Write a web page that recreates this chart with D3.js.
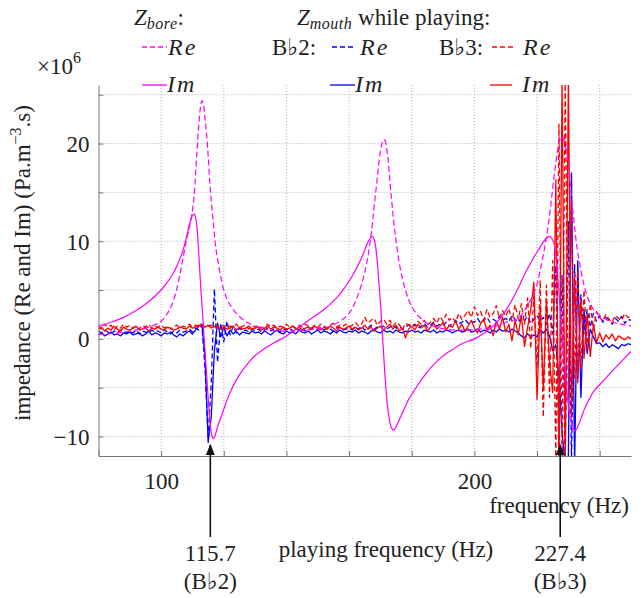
<!DOCTYPE html>
<html>
<head>
<meta charset="utf-8">
<script src="https://cdn.jsdelivr.net/npm/d3@7"></script>
<style>
  body { margin: 0; background: #fff; }
  svg text { font-family: "Liberation Serif", "DejaVu Serif", serif; fill: #222; }
</style>
</head>
<body>
<div id="chart"></div>
<script>
// Z_bore (input impedance of the bore), x10^6
const boreFreq = [80, 84, 88, 92, 96, 100, 102, 104, 106, 107, 108, 109, 110, 110.5, 111, 111.5, 112, 112.5, 113, 113.5,
  114, 114.5, 115, 115.5, 116, 116.5, 117, 117.5, 118, 119, 120, 121, 122, 124, 126, 128, 130, 133, 136, 140,
  144, 148, 152, 156, 158, 160, 162, 164, 165, 166, 167, 167.5, 168, 168.5, 169, 169.5, 170, 170.5, 171, 171.5,
  172, 172.5, 173, 173.5, 174, 174.5, 175, 176, 177, 178, 179, 180, 182, 184, 186, 189, 192, 196, 200, 204,
  208, 211, 214, 216, 218, 220, 221, 222, 223, 224, 224.5, 225, 225.5, 226, 226.5, 227, 227.5, 228, 228.5, 229,
  229.5, 230, 230.5, 231, 231.5, 232, 232.5, 233, 234, 235, 236, 237, 238, 240, 242, 244, 247, 250];
const boreRe = [0.45, 0.55, 0.7, 0.9, 1.2, 1.8, 2.6, 4.0, 6.6, 8.3, 10.0, 11.4, 13.2, 14.5, 17.0, 19.5, 21.8, 23.6, 24.4, 24.0,
  22.6, 21.0, 18.8, 16.2, 14.2, 12.4, 10.7, 9.2, 8.2, 6.4, 5.0, 4.1, 3.5, 2.6, 2.0, 1.6, 1.3, 1.0, 0.85, 0.8,
  0.85, 0.95, 1.1, 1.6, 2.0, 2.6, 3.8, 5.6, 6.8, 8.4, 10.6, 12.0, 13.6, 15.0, 16.5, 18.0, 19.2, 20.0, 20.4, 20.3,
  19.5, 18.2, 16.3, 14.5, 12.8, 11.3, 10.0, 7.8, 6.2, 5.0, 4.0, 3.3, 2.4, 1.8, 1.4, 1.1, 0.95, 0.9, 0.95, 1.1,
  1.4, 1.8, 2.1, 2.9, 4.0, 5.6, 7.0, 8.6, 10.4, 12.6, 14.0, 15.4, 16.8, 18.0, 19.2, 20.0, 20.6, 20.7, 20.4, 19.8,
  19.0, 18.0, 16.4, 14.6, 12.9, 11.4, 10.0, 8.8, 7.0, 5.5, 4.4, 3.6, 3.0, 2.4, 2.0, 1.7, 1.5, 1.3];
const boreIm = [1.3, 1.7, 2.2, 2.9, 3.8, 5.0, 5.8, 6.8, 8.2, 9.1, 10.3, 11.7, 12.6, 12.8, 12.4, 11.2, 8.8, 6.0, 3.6, 1.2,
  -1.2, -3.6, -6.0, -8.2, -9.6, -10.2, -10.1, -9.6, -9.0, -8.1, -7.2, -6.3, -5.5, -4.2, -3.2, -2.4, -1.7, -1.0, -0.4, 0.3,
  1.2, 2.1, 3.0, 4.2, 5.0, 5.9, 7.0, 8.3, 9.1, 9.9, 10.4, 10.5, 10.2, 9.4, 7.9, 5.8, 3.8, 1.2, -1.4, -4.0,
  -6.0, -7.5, -8.5, -9.1, -9.3, -9.3, -9.0, -8.3, -7.6, -6.9, -6.2, -5.7, -4.7, -3.8, -3.0, -2.0, -1.3, -0.5, 0.0, 0.8,
  2.0, 3.4, 5.2, 6.6, 7.8, 8.9, 9.4, 9.9, 10.3, 10.5, 10.4, 10.1, 9.7, 8.6, 6.8, 4.8, 2.6, 0.5, -1.8, -3.6,
  -5.4, -6.8, -7.9, -8.6, -9.1, -9.4, -9.3, -9.0, -8.2, -7.3, -6.6, -6.0, -5.4, -4.7, -4.0, -3.3, -2.3, -1.3];

// Z_mouth while playing, one value per Hz from 80 Hz to 250 Hz, x10^6
const mouthStart = 80;
const bb2Re = [
  0.8, 0.6, 0.9, 0.7, 0.5, 0.8, 0.6, 0.9, 0.7, 0.6,
  0.8, 0.6, 0.9, 0.5, 0.8, 0.7, 0.6, 0.9, 0.7, 0.8,
  0.6, 0.9, 0.7, 0.5, 0.8, 0.6, 0.9, 0.7, 0.8, 1.0,
  0.7, 1.1, 0.9, 1.4, -3.0, -10.0, -4.5, 5.1, -2.4, 1.6,
  -0.3, 1.8, 0.4, 1.3, 0.6, 1.1, 0.8, 0.9, 0.7, 1.0,
  0.8, 1.0, 0.7, 0.9, 1.1, 0.8, 1.0, 0.9, 0.7, 1.0,
  0.9, 1.1, 0.8, 1.0, 0.9, 1.2, 0.8, 1.0, 1.1, 0.9,
  1.0, 1.2, 0.9, 1.1, 1.0, 0.8, 1.1, 1.2, 0.9, 1.0,
  1.1, 0.9, 1.2, 1.0, 1.3, 0.9, 1.1, 1.4, 1.0, 1.2,
  1.1, 1.3, 1.0, 1.2, 1.4, 1.1, 1.3, 1.0, 1.2, 1.4,
  1.2, 1.5, 1.1, 1.3, 1.6, 1.2, 1.4, 1.7, 1.3, 1.5,
  1.4, 1.7, 1.3, 1.6, 1.9, 1.5, 1.7, 2.0, 1.6, 1.8,
  1.7, 2.1, 1.6, 1.9, 2.2, 1.7, 2.0, 1.8, 2.3, 1.9,
  2.1, 1.8, 2.4, 2.0, 1.7, 2.2, 1.9, 2.3, 1.6, 2.0,
  2.4, 1.8, 2.2, 1.5, 2.6, 0.5, 7.5, -12.5, 6.5, -12.5,
  12.0, -12.5, 7.6, -4.0, 4.5, 0.5, 3.0, 1.2, 2.6, 1.8,
  2.4, 1.7, 2.2, 1.9, 1.5, 2.1, 1.8, 2.3, 1.6, 2.0,
  1.9];
const bb2Im = [
  0.4, 0.6, 0.3, 0.5, 0.7, 0.4, 0.5, 0.3, 0.6, 0.5,
  0.7, 0.4, 0.5, 0.6, 0.3, 0.5, 0.8, 0.4, 0.6, 0.5,
  0.3, 0.6, 0.5, 0.7, 0.4, 0.2, 0.5, 0.3, 0.6, 0.8,
  0.5, 0.9, 1.3, 1.5, -1.8, -10.6, -8.0, -1.2, 1.6, 0.2,
  1.2, 0.3, 0.9, 0.5, 0.8, 0.4, 0.7, 0.6, 0.5, 0.8,
  0.6, 0.7, 0.5, 0.8, 0.6, 0.4, 0.7, 0.9, 0.6, 0.5,
  0.8, 0.6, 0.7, 0.5, 0.9, 0.7, 0.6, 0.8, 0.5, 0.7,
  0.9, 0.6, 0.8, 0.7, 0.5, 0.8, 0.6, 0.9, 0.7, 0.6,
  0.8, 0.7, 0.9, 0.6, 0.8, 0.7, 0.5, 0.8, 0.9, 0.7,
  0.6, 0.9, 0.7, 0.8, 0.6, 0.9, 0.7, 0.6, 0.8, 0.7,
  0.9, 0.7, 0.8, 0.6, 0.9, 0.8, 0.7, 0.9, 0.6, 0.8,
  0.7, 0.9, 0.8, 0.6, 0.8, 0.9, 0.7, 0.8, 1.0, 0.7,
  0.8, 1.0, 0.7, 0.9, 0.8, 0.6, 0.9, 0.7, 1.0, 0.8,
  0.9, 0.7, 1.0, 0.8, 0.6, 0.3, 0.1, 0.5, 0.2, 0.4,
  0.2, 0.9, 0.6, 1.0, 0.3, -1.2, -0.6, -4.0, -9.5, -13.0,
  -12.0, 17.0, -13.0, 8.0, -6.0, 3.0, -1.5, 1.0, 0.2, -0.5,
  -0.4, -0.8, -0.5, -0.9, -0.6, -0.8, -1.0, -0.6, -0.7, -0.5,
  -0.6];
const bb3Re = [
  1.3, 1.0, 1.5, 1.2, 1.4, 0.9, 1.3, 1.1, 1.5, 1.2,
  1.4, 1.1, 1.3, 1.0, 1.4, 1.2, 1.5, 1.1, 1.3, 1.2,
  1.4, 1.1, 1.3, 1.0, 1.2, 1.4, 1.1, 1.3, 1.2, 1.5,
  1.2, 1.4, 1.3, 1.5, 1.2, 1.3, 1.4, 1.1, 1.3, 1.2,
  1.4, 1.1, 1.3, 1.2, 1.5, 1.1, 1.3, 1.4, 1.0, 1.3,
  1.2, 1.4, 1.1, 1.3, 1.5, 1.2, 1.4, 1.1, 1.3, 1.2,
  1.5, 1.2, 1.3, 1.1, 1.4, 1.2, 1.5, 1.3, 1.1, 1.4,
  1.2, 1.5, 1.3, 1.1, 1.4, 1.6, 1.2, 1.4, 1.3, 1.5,
  1.2, 1.4, 1.7, 1.3, 1.5, 2.2, 1.6, 1.9, 2.1, 1.4,
  1.8, 2.0, 1.5, 1.9, 1.3, 1.7, 1.5, 0.9, 1.6, 1.4,
  1.6, 1.3, 1.8, 1.5, 1.9, 1.4, 1.7, 2.1, 1.6, 2.3,
  1.8, 2.5, 1.9, 2.2, 1.7, 2.6, 2.0, 2.4, 2.9, 2.2,
  3.3, 2.4, 2.8, 1.9, 3.0, 2.2, 2.6, 3.4, 2.1, 2.9,
  2.3, 3.1, 1.8, 3.5, 2.0, 3.6, 1.5, 4.2, -1.0, 4.5,
  -3.0, 6.0, -8.0, 5.5, -6.0, 8.0, -12.5, 22.0, -13.0, 26.5,
  -6.0, 14.0, -4.0, 7.0, -3.0, 5.0, -1.0, 3.6, 1.0, 2.8,
  2.2, 1.8, 2.5, 2.0, 1.7, 2.4, 2.1, 1.9, 2.6, 2.2,
  2.3];
const bb3Im = [
  1.0, 1.2, 0.8, 1.1, 0.9, 1.3, 1.0, 0.8, 1.2, 1.0,
  0.9, 1.1, 1.3, 0.9, 1.0, 1.2, 0.8, 1.1, 1.0, 1.2,
  1.0, 0.9, 1.2, 1.1, 0.9, 1.0, 1.2, 1.1, 1.0, 1.3,
  1.1, 1.2, 1.4, 1.3, 1.2, 1.4, 1.1, 1.3, 1.2, 1.0,
  1.2, 1.0, 1.1, 1.3, 0.9, 1.2, 1.0, 1.1, 1.3, 1.0,
  1.1, 1.2, 0.9, 1.1, 1.3, 1.0, 1.2, 1.1, 0.9, 1.2,
  1.0, 1.1, 1.3, 1.0, 1.2, 0.9, 1.1, 1.2, 1.0, 1.3,
  1.1, 0.9, 1.2, 1.0, 1.3, 1.1, 0.8, 1.2, 1.0, 1.1,
  1.3, 1.0, 1.2, 0.9, 1.1, 1.4, 1.0, 1.2, 0.8, 1.1,
  1.3, 0.9, 1.2, 1.5, 1.0, 1.4, 0.8, 1.1, 0.1, 1.0,
  1.3, 0.9, 1.5, 1.1, 1.4, 0.8, 1.2, 1.6, 1.0, 1.3,
  1.7, 0.9, 1.4, 1.2, 1.8, 1.0, 1.5, 0.8, 1.3, 1.9,
  1.1, 0.6, 1.6, 2.0, 0.9, 1.4, 0.3, 1.8, 1.0, 2.2,
  0.7, 1.5, -0.2, 1.9, 0.4, 2.4, -0.8, 1.2, 3.0, 5.8,
  -6.2, 3.5, -5.2, 4.0, -2.5, -5.5, 16.3, -13.0, 26.5, -13.0,
  26.5, -8.0, 6.5, -4.5, 4.0, -2.0, 2.5, -1.8, 1.5, -0.4,
  0.6, -0.3, 0.4, 0.0, 0.5, -0.2, 0.3, 0.1, -0.1, 0.2,
  0.0];

const xGridTicks = [80, 100, 120, 140, 160, 180, 200, 220, 240];
const xTickLabels = [100, 200];
const yGridTicks = [-10, -5, 0, 5, 10, 15, 20, 25];
const yTickLabels = [-10, 0, 10, 20];
const playingNotes = [{ f: 115.7, label: "115.7", note: "2" }, { f: 227.4, label: "227.4", note: "3" }];

const W = 643, H = 598;
const plot = { left: 98.5, right: 631, top: 85, bottom: 456 };
const fs = '23px';

const svg = d3.select('#chart').append('svg')
  .attr('width', W).attr('height', H);

const x = d3.scaleLinear().domain([80, 250]).range([plot.left, plot.right]);
const y = d3.scaleLinear().domain([-12, 26]).range([plot.bottom, plot.top]);

// grid
svg.append('g').selectAll('line').data(xGridTicks.slice(1)).enter().append('line')
  .attr('x1', d => x(d)).attr('x2', d => x(d))
  .attr('y1', plot.top).attr('y2', plot.bottom)
  .attr('stroke', '#b0b0b0').attr('stroke-dasharray', '1,2');
svg.append('g').selectAll('line').data(yGridTicks).enter().append('line')
  .attr('x1', plot.left).attr('x2', plot.right)
  .attr('y1', d => y(d)).attr('y2', d => y(d))
  .attr('stroke', '#b0b0b0').attr('stroke-dasharray', '1,2');

// clip for the traces
svg.append('clipPath').attr('id', 'clip').append('rect')
  .attr('x', plot.left).attr('y', plot.top)
  .attr('width', plot.right - plot.left).attr('height', plot.bottom - plot.top);

const traces = svg.append('g').attr('clip-path', 'url(#clip)');
const line = d3.line().x(d => x(d[0])).y(d => y(d[1]));
const smooth = d3.line().x(d => x(d[0])).y(d => y(d[1])).curve(d3.curveCatmullRom);
const mouthPts = vals => vals.map((v, i) => [mouthStart + i, v]);
const borePts = vals => vals.map((v, i) => [boreFreq[i], v]);

const series = [
  { pts: mouthPts(bb2Im), color: '#0000ff', dash: null, w: 1.3, gen: line },
  { pts: mouthPts(bb2Re), color: '#0000ff', dash: '5,3', w: 1.3, gen: line },
  { pts: mouthPts(bb3Im), color: '#ff0000', dash: null, w: 1.3, gen: line },
  { pts: mouthPts(bb3Re), color: '#ff0000', dash: '5,3', w: 1.3, gen: line },
  { pts: borePts(boreRe), color: '#ff00ff', dash: '6,3', w: 1.2, gen: smooth },
  { pts: borePts(boreIm), color: '#ff00ff', dash: null, w: 1.2, gen: smooth }
];
traces.selectAll('path').data(series).enter().append('path')
  .attr('d', d => d.gen(d.pts))
  .attr('fill', 'none')
  .attr('stroke', d => d.color)
  .attr('stroke-width', d => d.w)
  .attr('stroke-dasharray', d => d.dash)
  .attr('stroke-linejoin', 'round');

// axes (inward ticks, only some labelled)
const axisColor = '#777';
const xAxis = svg.append('g').attr('transform', `translate(0,${plot.bottom})`)
  .call(d3.axisBottom(x).tickValues(xGridTicks).tickSizeInner(-5).tickSizeOuter(0)
    .tickFormat(d => xTickLabels.includes(d) ? d : ''));
const yAxis = svg.append('g').attr('transform', `translate(${plot.left},0)`)
  .call(d3.axisLeft(y).tickValues(yGridTicks).tickSizeInner(-5).tickSizeOuter(0)
    .tickFormat(d => yTickLabels.includes(d) ? (d < 0 ? '\u2212' + Math.abs(d) : d) : ''));
[xAxis, yAxis].forEach(a => {
  a.select('.domain').attr('stroke', axisColor);
  a.selectAll('.tick line').attr('stroke', axisColor);
  a.selectAll('text').style('font-size', fs).attr('fill', '#222')
    .style('font-family', '"Liberation Serif", serif');
});
xAxis.selectAll('text').attr('dy', null).attr('y', 33);
yAxis.selectAll('text').attr('x', -9).attr('dy', '0.35em');

// axis titles
svg.append('text').attr('x', 629).attr('y', 513).attr('text-anchor', 'end')
  .style('font-size', fs).text('frequency (Hz)');

const yl = svg.append('text')
  .attr('transform', 'translate(30,263) rotate(-90)')
  .attr('text-anchor', 'middle').style('font-size', fs);
yl.append('tspan').text('impedance (Re and Im) (Pa.m');
yl.append('tspan').attr('dy', -9).style('font-size', '16px').text('\u22123');
yl.append('tspan').attr('dy', 9).text('.s)');

const ex = svg.append('text').attr('x', 37).attr('y', 74).style('font-size', fs);
ex.append('tspan').text('\u00d710');
ex.append('tspan').attr('dy', -11).style('font-size', '16px').text('6');

// playing frequency arrows
svg.append('defs').append('marker')
  .attr('id', 'arrow').attr('viewBox', '0 0 10 10')
  .attr('refX', 9).attr('refY', 5)
  .attr('markerWidth', 7).attr('markerHeight', 7)
  .attr('orient', 'auto-start-reverse')
  .append('path').attr('d', 'M0,1 L10,5 L0,9 z').attr('fill', '#111');

playingNotes.forEach(p => {
  svg.append('line')
    .attr('x1', x(p.f)).attr('x2', x(p.f))
    .attr('y1', 537).attr('y2', 445)
    .attr('stroke', '#111').attr('stroke-width', 1.6)
    .attr('marker-end', 'url(#arrow)');
  svg.append('text').attr('x', x(p.f)).attr('y', 561).attr('text-anchor', 'middle')
    .style('font-size', fs).text(p.label);
  svg.append('text').attr('x', x(p.f)).attr('y', 589).attr('text-anchor', 'middle')
    .style('font-size', fs).text('(B\u266d' + p.note + ')');
});
svg.append('text').attr('x', 386).attr('y', 557).attr('text-anchor', 'middle')
  .style('font-size', fs).text('playing frequency (Hz)');

// legend
function zLabel(xp, sub, rest) {
  const t = svg.append('text').attr('x', xp).attr('y', 25).style('font-size', fs);
  t.append('tspan').style('font-style', 'italic').text('Z');
  t.append('tspan').attr('dy', 4).style('font-size', '16px').style('font-style', 'italic')
    .style('letter-spacing', '0.5px').text(sub);
  t.append('tspan').attr('dy', -4).text(rest);
}
zLabel(134, 'bore', ':');
zLabel(297, 'mouth', ' while playing:');

const legendItems = [
  { x1: 142, x2: 167, yy: 47, color: '#ff00ff', dash: '5,3', tx: 168, ty: 55, txt: 'Re' },
  { x1: 142, x2: 167, yy: 85, color: '#ff00ff', dash: null, tx: 167, ty: 92, txt: 'Im' },
  { x1: 332, x2: 356, yy: 47, color: '#0000ff', dash: '5,3', tx: 360, ty: 55, txt: 'Re' },
  { x1: 330, x2: 355, yy: 85, color: '#0000ff', dash: null, tx: 355, ty: 92, txt: 'Im' },
  { x1: 492, x2: 514, yy: 47, color: '#ff0000', dash: '5,3', tx: 523, ty: 55, txt: 'Re' },
  { x1: 490, x2: 512, yy: 85, color: '#ff0000', dash: null, tx: 522, ty: 92, txt: 'Im' }
];
legendItems.forEach(l => {
  svg.append('line').attr('x1', l.x1).attr('x2', l.x2).attr('y1', l.yy).attr('y2', l.yy)
    .attr('stroke', l.color).attr('stroke-width', 1.3).attr('stroke-dasharray', l.dash);
  svg.append('text').attr('x', l.tx).attr('y', l.ty).style('font-size', '24px')
    .style('font-style', 'italic').style('letter-spacing', '2px').text(l.txt);
});
svg.append('text').attr('x', 272).attr('y', 55).style('font-size', fs).text('B\u266d2:');
svg.append('text').attr('x', 439).attr('y', 55).style('font-size', fs).text('B\u266d3:');
</script>
</body>
</html>
